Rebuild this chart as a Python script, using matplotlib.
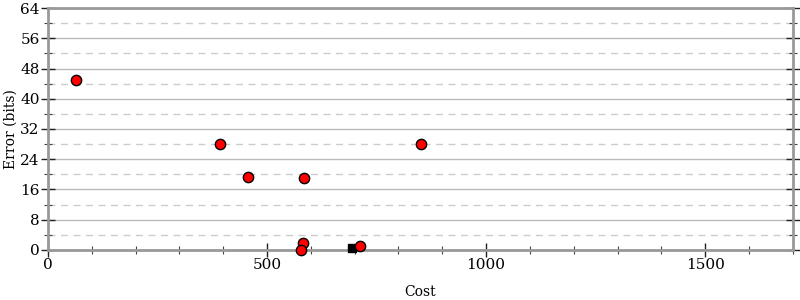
import numpy as np
import matplotlib
matplotlib.use('Agg')
import matplotlib.pyplot as plt
from matplotlib.ticker import MultipleLocator

plt.rcParams['font.family'] = 'DejaVu Serif'
plt.rcParams['font.size'] = 10

# data
cost = [64, 393, 457, 584, 852, 582, 578, 712]
error = [45, 28, 19.3, 18.9, 28, 1.8, 0.1, 1.0]
sq_cost = [694]
sq_error = [0.4]

fig = plt.figure(figsize=(8, 3), dpi=100)
ax = fig.add_axes([0.06, 0.167, 0.931, 0.806])

ax.scatter(sq_cost, sq_error, marker='s', s=40, c='black', zorder=3, clip_on=False)
ax.scatter(cost, error, marker='o', s=55, c='red', edgecolors='black', linewidths=1, zorder=4, clip_on=False)

ax.set_xlim(0, 1700)
ax.set_ylim(0, 64)
ax.xaxis.set_major_locator(MultipleLocator(500))
ax.xaxis.set_minor_locator(MultipleLocator(100))
ax.yaxis.set_major_locator(MultipleLocator(8))
ax.yaxis.set_minor_locator(MultipleLocator(4))

ax.grid(which='major', axis='y', color='#bbbbbb', linewidth=1, linestyle='-')
ax.grid(which='minor', axis='y', color='#cccccc', linewidth=1, linestyle=(0, (5, 4)))
ax.set_axisbelow(True)

for s in ax.spines.values():
    s.set_color('#999999')
    s.set_linewidth(2)

ax.tick_params(which='major', direction='inout', length=10, width=1, color='#222222',
               left=True, right=True, bottom=True, top=False, labelsize=11, pad=1)
ax.tick_params(which='minor', direction='inout', length=6, width=0.8, color='#444444',
               left=True, right=True, bottom=True, top=False)

ax.set_xlabel('Cost', labelpad=9)
ax.set_ylabel('Error (bits)')
ax.yaxis.set_label_coords(-0.041, 0.5)

fig.savefig('out.png', dpi=100)
